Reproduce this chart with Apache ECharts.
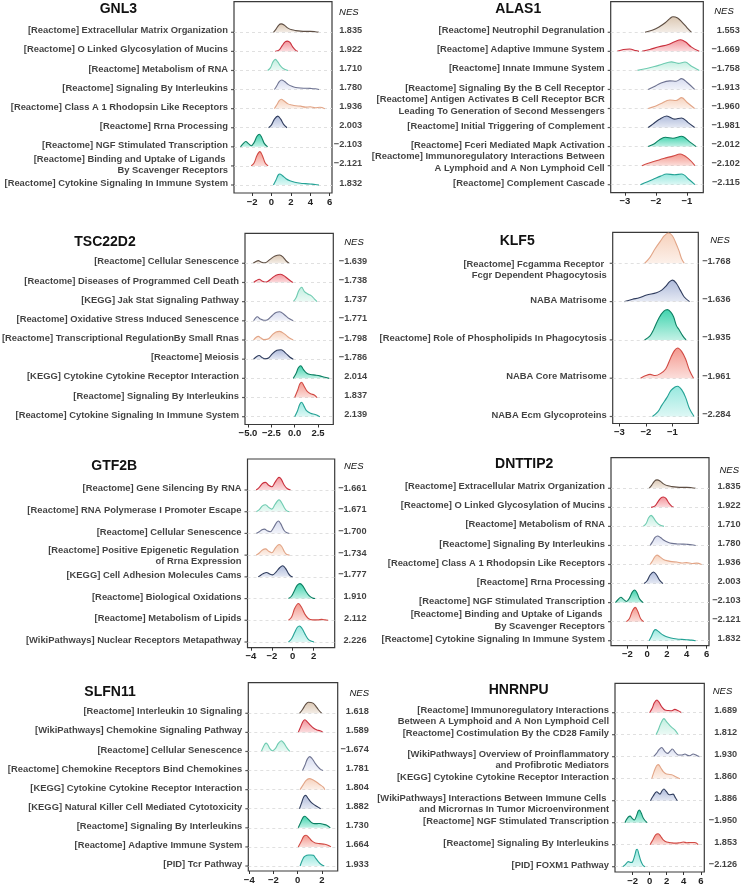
<!DOCTYPE html>
<html><head><meta charset="utf-8">
<script src="https://cdn.jsdelivr.net/npm/echarts@6/dist/echarts.min.js"></script>
<style>html,body{margin:0;padding:0;background:#fff}#c{width:743px;height:888px}</style>
</head><body><div id="c"></div>
<script>
// ---------------- DATA ----------------
// Ridge colours (top row -> bottom row of a 9-row panel)
const lineColors = ['#5e4e43','#c9303d','#6fcbb1','#6e7391','#e2a587','#2f3c5d','#0c7f62','#d14a44','#24a295'];
const fillColors = ['#d9c4ae','#f28e95','#bfeedf','#d4d9ee','#f6cfb9','#aab7d9','#36d2aa','#f39287','#92e7dd'];

// GNL3
const gnl3Terms = [
 '[Reactome] Extracellular Matrix Organization',
 '[Reactome] O Linked Glycosylation of Mucins',
 '[Reactome] Metabolism of RNA',
 '[Reactome] Signaling By Interleukins',
 '[Reactome] Class A 1 Rhodopsin Like Receptors',
 '[Reactome] Rrna Processing',
 '[Reactome] NGF Stimulated Transcription',
 '[Reactome] Binding and Uptake of Ligands \nBy Scavenger Receptors',
 '[Reactome] Cytokine Signaling In Immune System'];
const gnl3NES = [1.835, 1.922, 1.710, 1.780, 1.936, 2.003, -2.103, -2.121, 1.832];
const gnl3Ticks = [-2, 0, 2, 4, 6];
const gnl3Curves = [
 [[0.2,0],[0.45,0.15],[0.75,0.38],[1.0,0.44],[1.3,0.38],[1.7,0.22],[2.1,0.13],[2.5,0.09],[3.0,0.06],[3.5,0.05],[4.0,0.05],[4.5,0.03],[4.9,0]],
 [[0.4,0],[0.8,0.08],[1.1,0.3],[1.4,0.5],[1.65,0.54],[1.9,0.47],[2.2,0.22],[2.5,0.05],[2.7,0]],
 [[-0.4,0],[-0.1,0.15],[0.15,0.45],[0.4,0.58],[0.65,0.45],[0.9,0.25],[1.2,0.1],[1.7,0]],
 [[0.3,0],[0.55,0.2],[0.8,0.42],[1.05,0.5],[1.35,0.42],[1.7,0.27],[2.1,0.17],[2.5,0.11],[3.0,0.08],[3.5,0.07],[4.0,0.06],[4.5,0.04],[4.9,0]],
 [[0.3,0],[0.55,0.2],[0.8,0.42],[1.0,0.49],[1.3,0.4],[1.7,0.25],[2.1,0.19],[2.5,0.15],[3.0,0.13],[3.5,0.08],[4.0,0.1],[4.5,0.05],[5.0,0.07],[5.5,0]],
 [[-0.3,0],[0.0,0.15],[0.3,0.45],[0.65,0.61],[0.95,0.45],[1.25,0.18],[1.6,0]],
 [[-3.2,0],[-2.95,0.15],[-2.65,0.28],[-2.4,0.18],[-2.1,0.06],[-1.8,0.22],[-1.5,0.55],[-1.25,0.66],[-1.0,0.48],[-0.75,0.18],[-0.4,0]],
 [[-2.1,0],[-1.8,0.15],[-1.5,0.55],[-1.2,0.75],[-0.95,0.55],[-0.65,0.15],[-0.35,0]],
 [[0.2,0],[0.45,0.25],[0.7,0.53],[0.85,0.58],[1.1,0.5],[1.5,0.33],[1.9,0.22],[2.4,0.14],[3.0,0.09],[3.5,0.07],[4.0,0.05],[4.5,0.03],[4.9,0]]];

// ALAS1
const alas1Terms = [
 '[Reactome] Neutrophil Degranulation',
 '[Reactome] Adaptive Immune System',
 '[Reactome] Innate Immune System',
 '[Reactome] Signaling By the B Cell Receptor',
 '[Reactome] Antigen Activates B Cell Receptor BCR\nLeading To Generation of Second Messengers',
 '[Reactome] Initial Triggering of Complement',
 '[Reactome] Fceri Mediated Mapk Activation',
 '[Reactome] Immunoregulatory Interactions Between\nA Lymphoid and A Non Lymphoid Cell',
 '[Reactome] Complement Cascade'];
const alas1NES = [1.553, -1.669, -1.758, -1.913, -1.960, -1.981, -2.012, -2.102, -2.115];
const alas1Ticks = [-3, -2, -1];
// null height = gap in the density outline
const alas1Curves = [
 [[-2.35,0],[-2.1,0.12],[-1.9,0.28],[-1.7,0.5],[-1.55,0.72],[-1.45,0.82],[-1.3,0.75],[-1.15,0.52],[-1.0,0.25],[-0.85,0]],
 [[-3.25,0],[-3.05,0.1],[-2.85,0.12],[-2.65,0.04],[-2.55,0],[-2.5,null],[-2.45,0],[-2.2,0.1],[-1.9,0.24],[-1.6,0.36],[-1.4,0.5],[-1.2,0.61],[-1.05,0.5],[-0.85,0.22],[-0.6,0]],
 [[-2.6,0],[-2.3,0.1],[-2.05,0.2],[-1.8,0.32],[-1.5,0.45],[-1.28,0.37],[-1.06,0.44],[-0.85,0.22],[-0.6,0]],
 [[-2.25,0],[-2.05,0.15],[-1.85,0.33],[-1.55,0.45],[-1.35,0.43],[-1.17,0.57],[-0.98,0.35],[-0.75,0]],
 [[-2.25,0],[-2.05,0.1],[-1.85,0.25],[-1.55,0.45],[-1.35,0.42],[-1.17,0.57],[-0.98,0.3],[-0.75,0]],
 [[-2.25,0],[-2.1,0.18],[-1.9,0.42],[-1.65,0.61],[-1.4,0.44],[-1.17,0.5],[-0.96,0.26],[-0.75,0]],
 [[-2.25,0],[-2.05,0.15],[-1.9,0.34],[-1.7,0.49],[-1.45,0.44],[-1.17,0.54],[-0.92,0.26],[-0.7,0]],
 [[-2.45,0],[-2.1,0.2],[-1.75,0.38],[-1.45,0.5],[-1.22,0.61],[-0.96,0.38],[-0.74,0]],
 [[-2.5,0],[-2.1,0.27],[-1.85,0.45],[-1.65,0.56],[-1.4,0.52],[-1.17,0.56],[-0.92,0.26],[-0.74,0]]];

// TSC22D2
const tsc22d2Terms = [
 '[Reactome] Cellular Senescence',
 '[Reactome] Diseases of Programmed Cell Death',
 '[KEGG] Jak Stat Signaling Pathway',
 '[Reactome] Oxidative Stress Induced Senescence',
 '[Reactome] Transcriptional RegulationBy Small Rnas',
 '[Reactome] Meiosis',
 '[KEGG] Cytokine Cytokine Receptor Interaction',
 '[Reactome] Signaling By Interleukins',
 '[Reactome] Cytokine Signaling In Immune System'];
const tsc22d2NES = [-1.639, -1.738, 1.737, -1.771, -1.798, -1.786, 2.014, 1.837, 2.139];
const tsc22d2Ticks = [-5, -2.5, 0, 2.5];
const tsc22d2Curves = [
 [[-4.45,0],[-4.15,0.09],[-3.9,0.14],[-3.6,0.07],[-3.3,0.02],[-3.0,0.06],[-2.6,0.22],[-2.1,0.38],[-1.6,0.43],[-1.2,0.3],[-0.9,0.12],[-0.6,0]],
 [[-4.4,0],[-4.1,0.1],[-3.8,0.17],[-3.5,0.08],[-3.2,0.02],[-2.9,0.05],[-2.5,0.2],[-2.0,0.38],[-1.5,0.43],[-1.0,0.3],[-0.6,0.14],[-0.2,0]],
 [[-0.15,0],[0.15,0.2],[0.45,0.58],[0.75,0.75],[1.05,0.52],[1.4,0.4],[1.8,0.3],[2.1,0.15],[2.4,0]],
 [[-4.4,0],[-4.2,0.14],[-4.0,0.21],[-3.7,0.1],[-3.3,0.03],[-2.9,0.06],[-2.4,0.28],[-2.0,0.43],[-1.6,0.47],[-1.1,0.32],[-0.6,0.12],[-0.15,0]],
 [[-4.4,0],[-4.15,0.13],[-3.9,0.19],[-3.6,0.1],[-3.3,0.02],[-2.8,0.06],[-2.4,0.27],[-2.0,0.42],[-1.6,0.45],[-1.1,0.32],[-0.6,0.12],[-0.15,0]],
 [[-4.4,0],[-4.1,0.13],[-3.8,0.19],[-3.5,0.09],[-3.2,0.02],[-2.8,0.06],[-2.4,0.28],[-1.9,0.46],[-1.45,0.49],[-1.0,0.33],[-0.5,0.1],[-0.15,0]],
 [[-0.15,0],[0.15,0.25],[0.4,0.55],[0.65,0.66],[0.95,0.45],[1.3,0.27],[1.7,0.2],[2.2,0.17],[2.7,0.13],[3.1,0.07],[3.7,0]],
 [[0.0,0],[0.3,0.35],[0.55,0.7],[0.75,0.8],[1.0,0.6],[1.3,0.35],[1.7,0.2],[2.1,0.13],[2.4,0]],
 [[0.0,0],[0.3,0.3],[0.55,0.65],[0.75,0.75],[1.0,0.55],[1.3,0.3],[1.7,0.18],[2.2,0.11],[2.7,0]]];

// KLF5
const klf5Terms = [
 '[Reactome] Fcgamma Receptor \nFcgr Dependent Phagocytosis',
 'NABA Matrisome',
 '[Reactome] Role of Phospholipids In Phagocytosis',
 'NABA Core Matrisome',
 'NABA Ecm Glycoproteins'];
const klf5NES = [-1.768, -1.636, -1.935, -1.961, -2.284];
const klf5Ticks = [-3, -2, -1];
const klf5Curves = [
 [[-2.05,0],[-1.85,0.15],[-1.65,0.38],[-1.45,0.58],[-1.3,0.72],[-1.15,0.79],[-1.0,0.72],[-0.88,0.55],[-0.75,0.33],[-0.65,0.12],[-0.55,0]],
 [[-2.8,0],[-2.5,0.06],[-2.25,0.1],[-1.97,0.17],[-1.6,0.23],[-1.4,0.3],[-1.25,0.4],[-1.1,0.52],[-0.99,0.56],[-0.85,0.48],[-0.7,0.3],[-0.55,0.12],[-0.35,0]],
 [[-2.05,0],[-1.85,0.1],[-1.7,0.28],[-1.5,0.58],[-1.32,0.75],[-1.18,0.79],[-1.05,0.72],[-0.95,0.6],[-0.85,0.38],[-0.75,0.27],[-0.6,0.1],[-0.48,0]],
 [[-2.2,0],[-2.0,0.07],[-1.84,0.1],[-1.65,0.07],[-1.45,0.12],[-1.25,0.24],[-1.05,0.55],[-0.92,0.72],[-0.8,0.79],[-0.65,0.7],[-0.5,0.5],[-0.35,0.2],[-0.2,0]],
 [[-1.75,0],[-1.55,0.12],[-1.4,0.29],[-1.2,0.5],[-1.05,0.68],[-0.9,0.77],[-0.8,0.79],[-0.65,0.7],[-0.5,0.5],[-0.35,0.2],[-0.18,0]]];

// GTF2B
const gtf2bTerms = [
 '[Reactome] Gene Silencing By RNA',
 '[Reactome] RNA Polymerase I Promoter Escape',
 '[Reactome] Cellular Senescence',
 '[Reactome] Positive Epigenetic Regulation \nof Rrna Expression',
 '[KEGG] Cell Adhesion Molecules Cams',
 '[Reactome] Biological Oxidations',
 '[Reactome] Metabolism of Lipids',
 '[WikiPathways] Nuclear Receptors Metapathway'];
const gtf2bNES = [-1.661, -1.671, -1.700, -1.734, -1.777, 1.910, 2.112, 2.226];
const gtf2bTicks = [-4, -2, 0, 2];
const gtf2bCurves = [
 [[-3.5,0],[-3.2,0.12],[-2.9,0.3],[-2.6,0.35],[-2.3,0.22],[-2.0,0.15],[-1.7,0.35],[-1.45,0.53],[-1.3,0.58],[-1.1,0.5],[-0.8,0.22],[-0.5,0.06],[-0.2,0]],
 [[-3.5,0],[-3.2,0.1],[-2.9,0.27],[-2.6,0.32],[-2.3,0.2],[-2.0,0.12],[-1.7,0.33],[-1.45,0.5],[-1.3,0.55],[-1.1,0.45],[-0.8,0.18],[-0.6,0.05],[-0.3,0]],
 [[-3.5,0],[-3.2,0.08],[-2.95,0.17],[-2.7,0.2],[-2.45,0.12],[-2.15,0.08],[-1.85,0.25],[-1.55,0.5],[-1.37,0.57],[-1.15,0.45],[-0.85,0.16],[-0.6,0.04],[-0.3,0]],
 [[-3.5,0],[-3.2,0.1],[-2.9,0.24],[-2.6,0.29],[-2.3,0.18],[-2.0,0.11],[-1.7,0.3],[-1.45,0.45],[-1.28,0.49],[-1.05,0.4],[-0.8,0.16],[-0.6,0.04],[-0.3,0]],
 [[-3.3,0],[-3.0,0.1],[-2.75,0.17],[-2.5,0.2],[-2.2,0.13],[-1.92,0.09],[-1.6,0.22],[-1.25,0.42],[-0.96,0.51],[-0.7,0.4],[-0.4,0.15],[-0.2,0.04],[0.0,0]],
 [[-0.4,0],[-0.1,0.12],[0.2,0.4],[0.45,0.62],[0.7,0.69],[0.95,0.6],[1.25,0.35],[1.6,0.12],[1.9,0.03],[2.15,0]],
 [[-0.4,0],[-0.1,0.15],[0.2,0.55],[0.55,0.77],[0.85,0.6],[1.15,0.3],[1.5,0.08],[1.9,0.02],[2.4,0.02],[2.8,0.04],[3.1,0.02],[3.4,0]],
 [[-0.4,0],[-0.1,0.15],[0.2,0.45],[0.45,0.68],[0.65,0.74],[0.9,0.62],[1.2,0.35],[1.55,0.1],[2.05,0]]];

// DNTTIP2 (same gene sets and profiles as GNL3 in the figure)
const dnttip2Terms = gnl3Terms;
const dnttip2NES = gnl3NES;
const dnttip2Ticks = [-2, 0, 2, 4, 6];
const dnttip2Curves = gnl3Curves;

// SLFN11
const slfn11Terms = [
 '[Reactome] Interleukin 10 Signaling',
 '[WikiPathways] Chemokine Signaling Pathway',
 '[Reactome] Cellular Senescence',
 '[Reactome] Chemokine Receptors Bind Chemokines',
 '[KEGG] Cytokine Cytokine Receptor Interaction',
 '[KEGG] Natural Killer Cell Mediated Cytotoxicity',
 '[Reactome] Signaling By Interleukins',
 '[Reactome] Adaptive Immune System',
 '[PID] Tcr Pathway'];
const slfn11NES = [1.618, 1.589, -1.674, 1.781, 1.804, 1.882, 1.730, 1.664, 1.933];
const slfn11Ticks = [-4, -2, 0, 2];
const slfn11Curves = [
 [[0.15,0],[0.4,0.2],[0.65,0.45],[0.88,0.58],[1.1,0.57],[1.3,0.52],[1.5,0.38],[1.7,0.2],[2.0,0]],
 [[0.05,0],[0.25,0.3],[0.45,0.58],[0.6,0.66],[0.8,0.55],[1.05,0.38],[1.3,0.23],[1.6,0.13],[1.85,0.08],[2.1,0]],
 [[-3.0,0],[-2.85,0.22],[-2.7,0.4],[-2.6,0.44],[-2.45,0.34],[-2.3,0.15],[-2.1,0.04],[-1.85,0.15],[-1.6,0.42],[-1.35,0.56],[-1.15,0.45],[-0.9,0.2],[-0.65,0]],
 [[0.4,0],[0.6,0.28],[0.8,0.6],[1.0,0.73],[1.2,0.62],[1.45,0.38],[1.7,0.18],[1.9,0.06],[2.1,0]],
 [[0.2,0],[0.45,0.25],[0.7,0.48],[0.95,0.58],[1.25,0.52],[1.55,0.4],[1.85,0.26],[2.1,0.14],[2.25,0]],
 [[0.15,0],[0.35,0.35],[0.5,0.62],[0.66,0.7],[0.85,0.55],[1.1,0.35],[1.3,0.24],[1.6,0.12],[1.9,0]],
 [[0.05,0],[0.25,0.28],[0.45,0.55],[0.6,0.61],[0.8,0.5],[1.05,0.33],[1.3,0.23],[1.6,0.22],[1.85,0.23],[2.15,0.18],[2.4,0.14],[2.7,0]],
 [[0.05,0],[0.3,0.3],[0.5,0.55],[0.7,0.61],[0.95,0.47],[1.2,0.3],[1.45,0.21],[1.8,0.17],[2.25,0.14],[2.55,0.08],[2.75,0]],
 [[0.2,0],[0.38,0.3],[0.55,0.49],[0.75,0.56],[0.9,0.58],[1.1,0.58],[1.3,0.56],[1.5,0.4],[1.72,0.22],[1.95,0.08],[2.2,0]]];

// HNRNPU
const hnrnpuTerms = [
 '[Reactome] Immunoregulatory Interactions\nBetween A Lymphoid and A Non Lymphoid Cell',
 '[Reactome] Costimulation By the CD28 Family',
 '[WikiPathways] Overview of Proinflammatory\nand Profibrotic Mediators',
 '[KEGG] Cytokine Cytokine Receptor Interaction',
 '[WikiPathways] Interactions Between Immune Cells \nand Micrornas In Tumor Microenvironment',
 '[Reactome] NGF Stimulated Transcription',
 '[Reactome] Signaling By Interleukins',
 '[PID] FOXM1 Pathway'];
const hnrnpuNES = [1.689, 1.812, 1.930, 1.860, 1.886, -1.950, 1.853, -2.126];
const hnrnpuTicks = [-2, 0, 2, 4, 6];
const hnrnpuCurves = [
 [[0.0,0],[0.3,0.2],[0.55,0.45],[0.85,0.58],[1.1,0.48],[1.4,0.28],[1.8,0.12],[2.2,0.1],[2.6,0.09],[2.95,0.15],[3.3,0.1],[3.75,0]],
 [[0.75,0],[1.0,0.2],[1.3,0.5],[1.68,0.73],[2.0,0.58],[2.38,0.41],[2.7,0.3],[3.0,0.2],[3.35,0]],
 [[0.45,0],[0.8,0.15],[1.1,0.32],[1.41,0.42],[1.75,0.25],[2.1,0.15],[2.4,0.25],[2.66,0.35],[3.0,0.2],[3.36,0.08],[3.8,0.08],[4.14,0.12],[4.45,0.06],[4.7,0.04],[5.1,0.12],[5.5,0.06],[5.9,0]],
 [[0.25,0],[0.5,0.3],[0.8,0.58],[1.02,0.64],[1.3,0.5],[1.6,0.32],[1.9,0.23],[2.2,0.2],[2.6,0.18],[3.0,0.1],[3.55,0]],
 [[0.1,0],[0.4,0.2],[0.82,0.41],[1.2,0.3],[1.45,0.45],[1.68,0.53],[1.95,0.42],[2.3,0.27],[2.75,0.3],[3.0,0.15],[3.25,0]],
 [[-2.9,0],[-2.7,0.15],[-2.5,0.26],[-2.3,0.3],[-2.05,0.2],[-1.8,0.12],[-1.55,0.3],[-1.35,0.52],[-1.2,0.58],[-1.0,0.45],[-0.7,0.18],[-0.3,0]],
 [[0.05,0],[0.35,0.2],[0.7,0.45],[1.0,0.5],[1.3,0.38],[1.6,0.22],[2.0,0.12],[2.5,0.09],[3.0,0.07],[3.5,0.09],[3.95,0.12],[4.35,0.09],[4.75,0.1],[5.3,0.1],[5.7,0]],
 [[-3.15,0],[-2.8,0.12],[-2.5,0.23],[-2.2,0.19],[-2.0,0.22],[-1.75,0.5],[-1.55,0.78],[-1.45,0.79],[-1.25,0.55],[-1.05,0.28],[-0.8,0.08],[-0.55,0]]];

// ---------------- LAYOUT (pixels) ----------------
const panels = [
 {gene:'GNL3', terms:gnl3Terms, nes:gnl3NES, curves:gnl3Curves, ticks:gnl3Ticks, dec:0,
  box:[234,1.7,332,193], xr:[-3.87,6.24], rows:[32.3,185], title:[118.3,9], hdr:[348.8,12.7], nesRight:361.7, twoLine:-1},
 {gene:'ALAS1', terms:alas1Terms, nes:alas1NES, curves:alas1Curves, ticks:alas1Ticks, dec:0,
  box:[610.7,1.7,703.3,192.7], xr:[-3.46,-0.47], rows:[32.3,184.7], title:[518.3,9], hdr:[724,11.7], nesRight:739.3, twoLine:-3},
 {gene:'TSC22D2', terms:tsc22d2Terms, nes:tsc22d2NES, curves:tsc22d2Curves, ticks:tsc22d2Ticks, dec:1,
  box:[245,233.3,333.3,424.5], xr:[-5.32,4.14], rows:[263.3,416.7], title:[105,241.7], hdr:[354,242.3], nesRight:366.7, twoLine:-1},
 {gene:'KLF5', terms:klf5Terms, nes:klf5NES, curves:klf5Curves, ticks:klf5Ticks, dec:0,
  box:[612.7,232.3,698.3,423.5], xr:[-3.25,-0.02], rows:[263.3,416.5], title:[517.2,240.7], hdr:[720,240], nesRight:730, twoLine:6.5},
 {gene:'GTF2B', terms:gtf2bTerms, nes:gtf2bNES, curves:gtf2bCurves, ticks:gtf2bTicks, dec:0,
  box:[247.5,459,334.7,647.7], xr:[-4.33,4.03], rows:[490,642], title:[114.2,465.7], hdr:[353.7,466.7], nesRight:366, twoLine:1},
 {gene:'DNTTIP2', terms:dnttip2Terms, nes:dnttip2NES, curves:dnttip2Curves, ticks:dnttip2Ticks, dec:0,
  box:[611,457.7,709,645.7], xr:[-3.65,6.25], rows:[488.3,640.7], title:[524.2,464.3], hdr:[729.2,470], nesRight:740, twoLine:-1},
 {gene:'SLFN11', terms:slfn11Terms, nes:slfn11NES, curves:slfn11Curves, ticks:slfn11Ticks, dec:0,
  box:[248.3,682.7,337.7,871], xr:[-4.08,3.31], rows:[713.3,866], title:[110,691.7], hdr:[359.2,693.3], nesRight:368.3, twoLine:-1},
 {gene:'HNRNPU', terms:hnrnpuTerms, nes:hnrnpuNES, curves:hnrnpuCurves, ticks:hnrnpuTicks, dec:0,
  box:[615,683.3,704.3,872], xr:[-4.06,6.41], rows:[712.7,866.7], title:[518.7,690], hdr:[722.5,691.7], nesRight:736.7, twoLine:3}
];

// ---------------- BUILD ----------------
const FONT = '"Liberation Sans", Arial, Helvetica, sans-serif';
function rgba(hex, a){ const n = parseInt(hex.slice(1),16); return 'rgba('+((n>>16)&255)+','+((n>>8)&255)+','+(n&255)+','+a+')'; }
function signed(v, d){ const s = Math.abs(v).toFixed(d); return v < 0 ? '\u2212' + s : s; }

const grids = [], xAxes = [], yAxes = [], series = [], graphic = [];
panels.forEach((p, pi) => {
  const n = p.terms.length;
  const [L, T, R, B] = p.box;
  const s = (p.rows[1] - p.rows[0]) / (n - 1);
  grids.push({left:L, top:T, width:R-L, height:B-T, show:true, borderColor:'#3a3a3a', borderWidth:1.2, backgroundColor:'rgba(0,0,0,0)'});
  xAxes.push({type:'value', gridIndex:pi, min:p.xr[0], max:p.xr[1], position:'bottom',
    axisLine:{show:false, onZero:false}, splitLine:{show:false},
    axisTick:{show:true, length:3, lineStyle:{color:'#333', width:1}, customValues:p.ticks},
    axisLabel:{show:true, customValues:p.ticks, formatter:v => signed(v, p.dec), fontFamily:FONT, fontSize:9.5, fontWeight:'bold', color:'#222', margin:4}});
  yAxes.push({type:'value', gridIndex:pi, min:-(B - p.rows[1]) / s, max:(n - 1) + (p.rows[0] - T) / s, show:false});
  const off = 9 - n;

  // term labels, y ticks and dashed baselines
  series.push({type:'scatter', xAxisIndex:pi, yAxisIndex:pi, z:1, silent:true, clip:false,
    symbol:'rect', symbolSize:[3,1.2], symbolOffset:[-1.5,0], itemStyle:{color:'#333'},
    data:p.terms.map((t, i) => ({name:t, value:[p.xr[0], n-1-i], label:{offset:[0, t.indexOf('\n') >= 0 ? p.twoLine : -1.5]}})),
    label:{show:true, position:'left', distance:3, formatter:q => q.name, align:'right',
      fontFamily:FONT, fontSize:9.4, fontWeight:'bold', color:'#111', lineHeight:11.5},
    markLine:{silent:true, symbol:'none', animation:false, label:{show:false},
      lineStyle:{type:[3,3], color:'#d8d8d8', width:0.8},
      data:p.terms.map((t, i) => ({yAxis:n-1-i}))}
  });

  // ridges
  p.curves.forEach((c, i) => {
    const y0 = n - 1 - i, col = off + i;
    series.push({type:'line', xAxisIndex:pi, yAxisIndex:pi, z:2 + i, silent:true, symbol:'none', smooth:0.35,
      connectNulls:false,
      data:c.map(d => d[1] === null ? [d[0], '-'] : [d[0], y0 + d[1]]),
      lineStyle:{color:lineColors[col], width:1.1},
      areaStyle:{origin:y0, opacity:1, color:new echarts.graphic.LinearGradient(0,0,0,1,[
        {offset:0, color:rgba(fillColors[col],0.95)}, {offset:1, color:rgba(fillColors[col],0.3)}])}
    });
  });

  // NES values
  series.push({type:'scatter', xAxisIndex:pi, yAxisIndex:pi, z:30, silent:true, clip:false,
    symbolSize:1, itemStyle:{color:'rgba(0,0,0,0)'},
    data:p.nes.map((v, i) => [p.xr[1], n-1-i, v]),
    label:{show:true, position:'right', distance:p.nesRight - R, align:'right', offset:[0,-2],
      formatter:q => signed(q.value[2], 3), fontFamily:FONT, fontSize:9.2, fontWeight:'bold', color:'#111'}
  });

  graphic.push({type:'text', x:p.title[0], y:p.title[1], silent:true,
    style:{text:p.gene, font:'bold 14px ' + FONT, fill:'#111', align:'center', verticalAlign:'middle'}});
  graphic.push({type:'text', x:p.hdr[0], y:p.hdr[1], silent:true,
    style:{text:'NES', font:'italic 9.5px ' + FONT, fill:'#111', align:'center', verticalAlign:'middle'}});
});

const chart = echarts.init(document.getElementById('c'), null, {renderer:'canvas'});
chart.setOption({animation:false, backgroundColor:'#fff', grid:grids, xAxis:xAxes, yAxis:yAxes, series:series, graphic:graphic});
</script></body></html>
